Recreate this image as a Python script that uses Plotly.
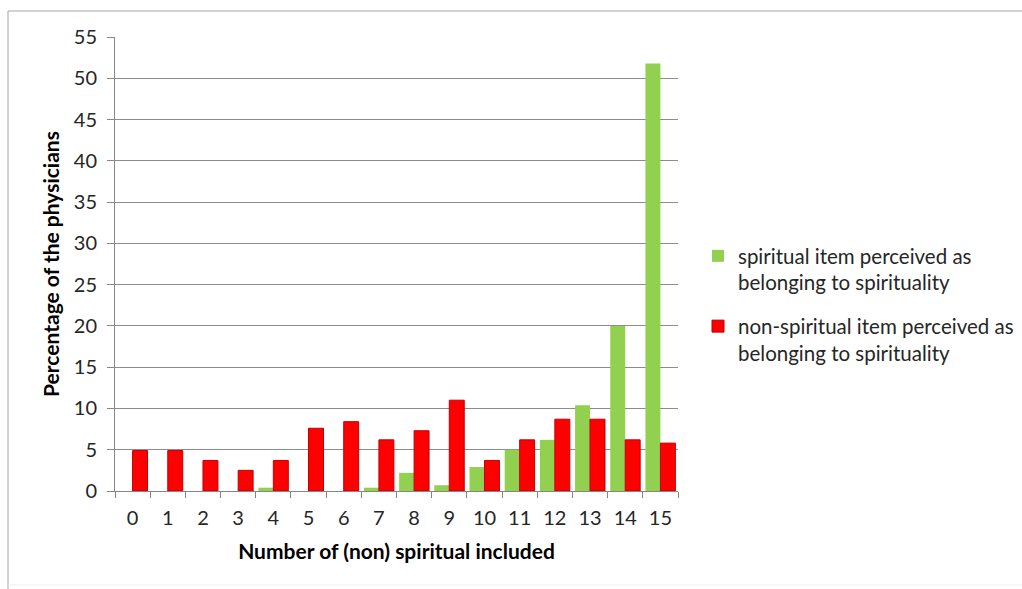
import plotly.graph_objects as go

categories = [str(i) for i in range(16)]
spiritual = [0, 0, 0, 0, 0.4, 0, 0, 0.4, 2.2, 0.7, 2.9, 5.0, 6.2, 10.4, 20.0, 51.8]
non_spiritual = [4.9, 4.9, 3.7, 2.5, 3.7, 7.6, 8.4, 6.2, 7.3, 11.0, 3.7, 6.2, 8.7, 8.7, 6.2, 5.8]
y_ticks = list(range(0, 60, 5))

W, H = 1022, 589
L, R, T, B = 115, 344, 37, 98
FONT = "Lato, 'Open Sans', sans-serif"

fig = go.Figure()
fig.add_trace(go.Bar(
    x=categories, y=spiritual, legendgroup="g1",
    name="spiritual item perceived as<br>belonging to spirituality",
    marker=dict(color="#92d050", line=dict(width=0)),
))
fig.add_trace(go.Bar(
    x=categories, y=non_spiritual, legendgroup="g2",
    name="non-spiritual item perceived as<br>belonging to spirituality",
    marker=dict(color="#ff0000", line=dict(color="#c00000", width=1)),
))

pw = W - L - R
ph = H - T - B
def px_x(p):
    return (p - L) / pw
def px_y(p):
    return (H - B - p) / ph

fig.update_layout(
    width=W, height=H,
    margin=dict(l=L, r=R, t=T, b=B, pad=0, autoexpand=False),
    paper_bgcolor="white", plot_bgcolor="white",
    barmode="group", bargap=0.15, bargroupgap=0,
    font=dict(family=FONT, size=20, color="#262626"),
    showlegend=True,
    legend=dict(
        x=px_x(698), y=px_y(236), xanchor="left", yanchor="top",
        font=dict(family=FONT, size=20.5, color="#262626"),
        valign="top", tracegroupgap=14, itemwidth=30,
        bgcolor="rgba(0,0,0,0)",
    ),
    xaxis=dict(
        type="category",
        showline=True, linecolor="#868686", linewidth=1,
        ticks="outside", tickson="boundaries", ticklen=6, tickcolor="#868686",
        showgrid=False,
        ticklabelstandoff=9,
        tickfont=dict(family=FONT, size=20, color="#262626"),
        title=dict(text="<b>Number of (non) spiritual included</b>",
                   font=dict(family=FONT, size=21, color="#000000"), standoff=16),
    ),
    yaxis=dict(
        range=[0, 55], tickvals=y_ticks,
        showline=True, linecolor="#868686", linewidth=1,
        ticks="outside", ticklen=7, tickcolor="#868686",
        showgrid=True, gridcolor="#8c8c8c", gridwidth=1,
        zeroline=False,
        ticklabelstandoff=6,
        tickfont=dict(family=FONT, size=20, color="#262626"),
        title=dict(text="<b>Percentage of the physicians</b>",
                   font=dict(family=FONT, size=21, color="#000000"), standoff=8),
    ),
    shapes=[
        dict(type="line", xref="paper", yref="paper",
             x0=px_x(8), x1=px_x(1022), y0=px_y(11), y1=px_y(11),
             line=dict(color="#a6a6a6", width=1)),
        dict(type="line", xref="paper", yref="paper",
             x0=px_x(8), x1=px_x(8), y0=px_y(11), y1=px_y(589),
             line=dict(color="#a6a6a6", width=1)),
        dict(type="line", xref="paper", yref="paper",
             x0=px_x(8), x1=px_x(1022), y0=px_y(585), y1=px_y(585),
             line=dict(color="#eeeeee", width=1)),
    ],
)

fig.write_html("out.html")
